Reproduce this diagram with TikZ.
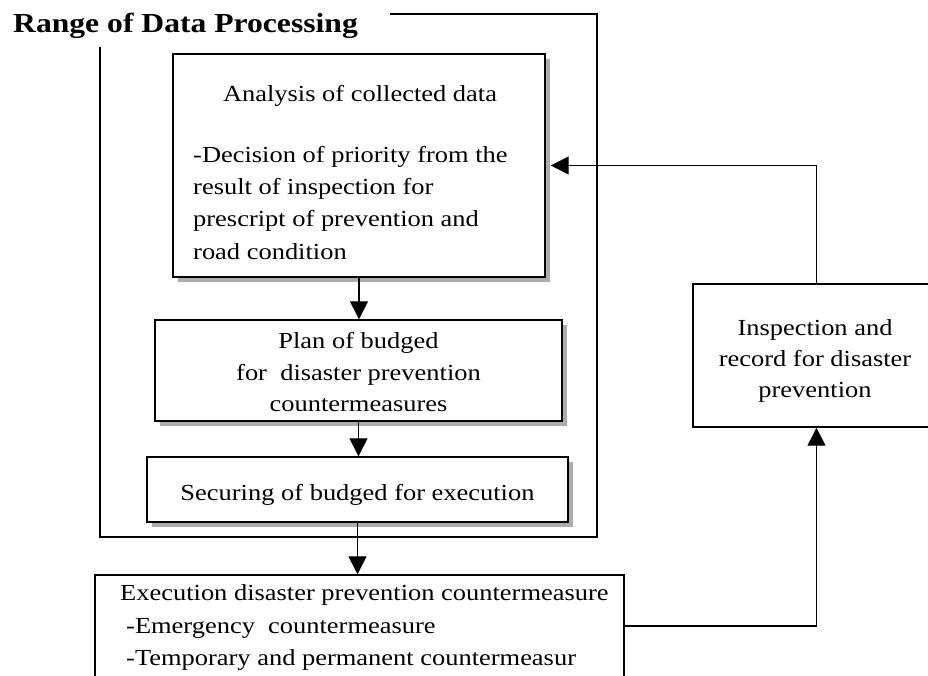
\documentclass[tikz,border=0pt]{standalone}
\usepackage{fontspec}
\setmainfont{Liberation Serif}[FakeStretch=1.15]
\usetikzlibrary{arrows.meta,shadows,calc}
\begin{document}
\begin{tikzpicture}[x=1pt,y=-1pt,
  box/.style={draw, line width=1.4pt, fill=white, inner sep=0pt},
  shbox/.style={box, drop shadow={shadow xshift=5pt, shadow yshift=-5pt, fill=gray!65, opacity=1}},
  txt/.style={inner sep=0pt, font=\fontsize{23}{32}\selectfont},
  arr/.style={line width=1.3pt, -{Triangle[length=18pt,width=18pt]}},
  frameline/.style={line width=1.3pt}]
\useasboundingbox (0,0) rectangle (928,676);
\clip (0,0) rectangle (928,676);
% title
\node[anchor=base west, inner sep=0pt, font=\bfseries\fontsize{27.5}{33}\selectfont] (title) at (13,33) {Range of Data Processing};
% frame of the range
\coordinate (f1) at (390,14);
\coordinate (f2) at (597,14);
\coordinate (f3) at (597,537);
\coordinate (f4) at (100,537);
\coordinate (f5) at (100,47);
\draw[frameline] (f1) -- (f2) -- (f3) -- (f4) -- (f5);
% boxes
\node[shbox, minimum width=372pt, minimum height=223pt] (ana) at (359,165.5) {};
\node[shbox, minimum width=407pt, minimum height=101pt] (plan) at (358.5,370.5) {};
\node[shbox, minimum width=421pt, minimum height=65pt] (sec) at (357.5,489.5) {};
\node[box, minimum width=529pt, minimum height=102pt] (exec) at (359.5,626) {};
\node[box, minimum width=247pt, minimum height=143pt] (insp) at (816.5,355.5) {};
% texts
\node[txt, anchor=base] (a0) at (360,102) {Analysis of collected data};
\node[txt, anchor=base west] (a1) at (193,163) {-Decision of priority from the};
\node[txt, anchor=base west] (a2) at (193,195) {result of inspection for};
\node[txt, anchor=base west] (a3) at (193,227) {prescript of prevention and};
\node[txt, anchor=base west] (a4) at (193,259) {road condition};
\node[txt, anchor=base] (p1) at (358.5,348) {Plan of budged};
\node[txt, anchor=base] (p2) at (358.5,380) {for \ disaster prevention};
\node[txt, anchor=base] (p3) at (358.5,411) {countermeasures};
\node[txt, anchor=base] (s1) at (357.5,500) {Securing of budged for execution};
\node[txt, anchor=base west] (e1) at (120,600) {Execution disaster prevention countermeasure};
\node[txt, anchor=base west] (e2) at (126,633) {-Emergency \ countermeasure};
\node[txt, anchor=base west] (e3) at (126,665) {-Temporary and permanent countermeasur};
\node[txt, anchor=base] (i1) at (815,335) {Inspection and};
\node[txt, anchor=base] (i2) at (815,366) {record for disaster};
\node[txt, anchor=base] (i3) at (815,397) {prevention};
% connectors
\draw[arr] (ana.south) -- (ana.south |- plan.north);
\draw[arr] (plan.south) -- (plan.south |- sec.north);
\draw[arr] (sec.south) -- (sec.south |- exec.north);
\draw[arr] (exec.east) -| (insp.south);
\draw[arr] (insp.north) |- ([xshift=5pt]ana.east);
\end{tikzpicture}
\end{document}
